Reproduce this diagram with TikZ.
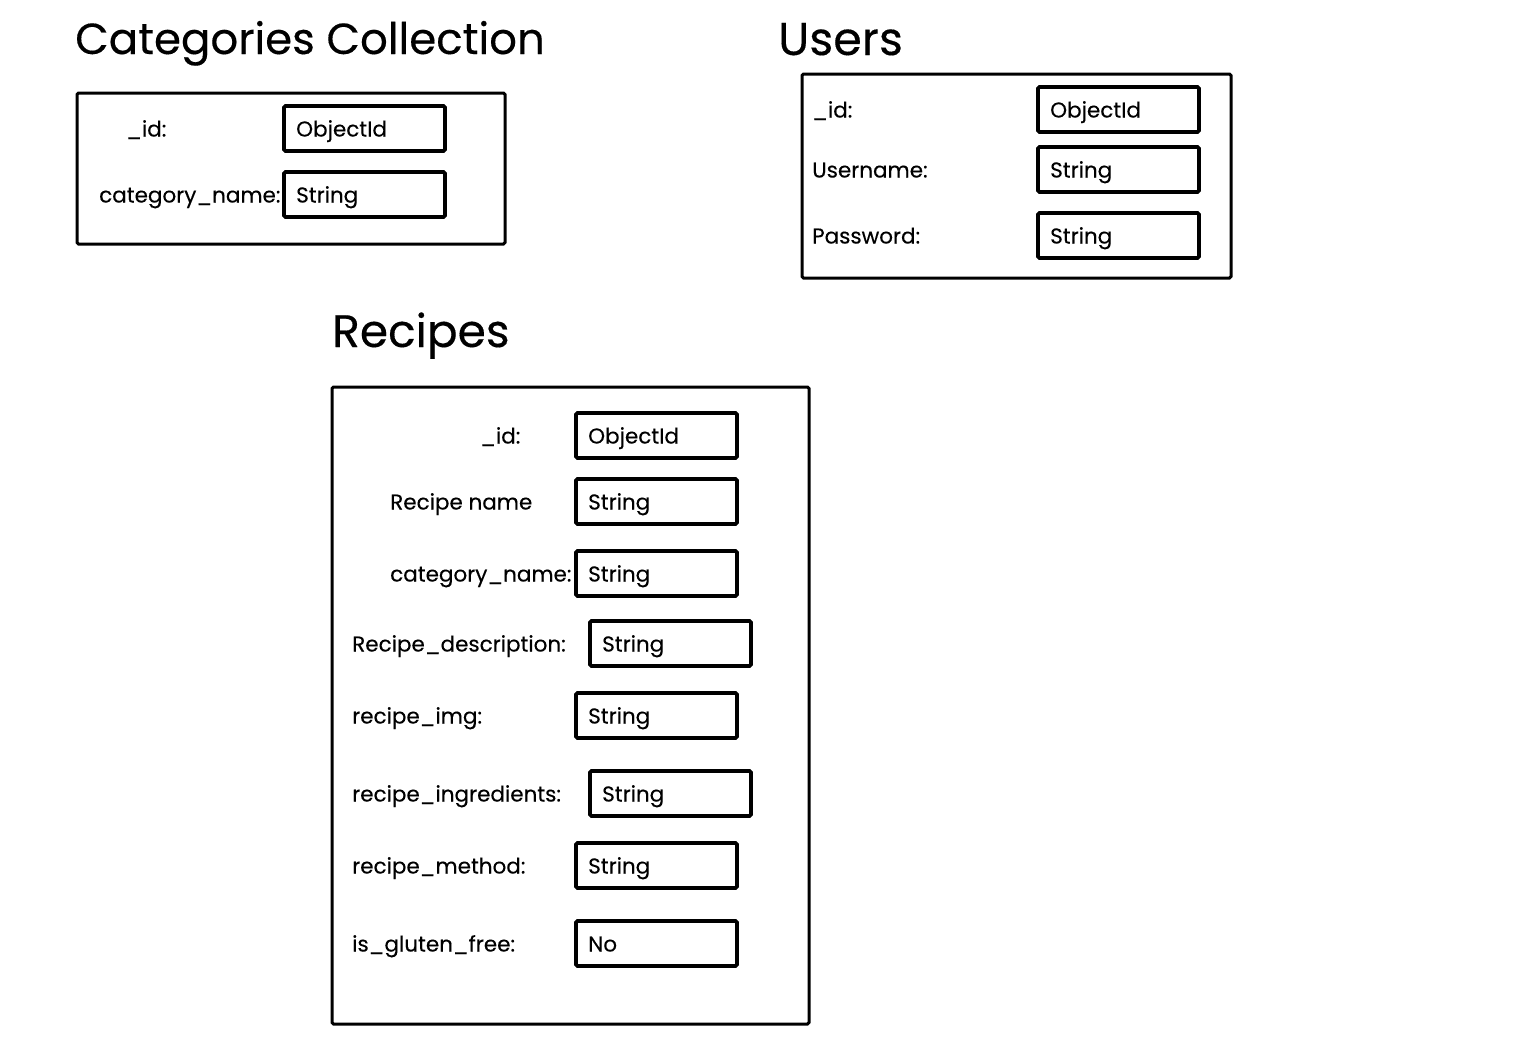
\documentclass[tikz,border=0pt]{standalone}
\usepackage{fontspec}
\setmainfont{Poppins}[FakeBold=0.3]
\newcommand\fieldrow[6]{%
  \node[lbl] (#1l) at (#2,#5+30.5) {#3};
  \node[field, anchor=north west] (#1b) at (#4,#5) {};
  \node[lbl] (#1t) at (#4+12,#5+30.5) {#6};
}
\begin{document}
\begin{tikzpicture}[x=1pt,y=-1pt,
  panel/.style={draw, line width=3pt, rounded corners=1.5pt, inner sep=0pt, outer sep=0pt, anchor=north west},
  field/.style={draw, line width=3.8pt, rounded corners=1.5pt, inner sep=0pt, outer sep=0pt, minimum width=161pt, minimum height=45pt},
  ttl/.style={anchor=base west, inner sep=0pt},
  lbl/.style={anchor=base west, inner sep=0pt, font=\fontsize{21.5}{26}\selectfont},
]
\useasboundingbox (0,0) rectangle (1522,1047);
% Categories
\node[ttl, font=\fontsize{43.5}{50}\selectfont] (cattitle) at (75,54) {Categories Collection};
\node[panel, minimum width=428pt, minimum height=151pt] (catbox) at (77,93) {};
\fieldrow{ca}{126}{\_id:}{284}{106}{ObjectId}
\fieldrow{cb}{99}{category\_name:}{284}{172}{String}
% Users
\node[ttl, font=\fontsize{46}{52}\selectfont] (usertitle) at (778,55) {Users};
\node[panel, minimum width=429pt, minimum height=204pt] (userbox) at (802,74) {};
\fieldrow{ua}{812}{\_id:}{1038}{87}{ObjectId}
\fieldrow{ub}{812}{Username:}{1038}{147}{String}
\fieldrow{uc}{812}{Password:}{1038}{213}{String}
% Recipes
\node[ttl, font=\fontsize{45.5}{52}\selectfont] (rectitle) at (332,347) {Recipes};
\node[panel, minimum width=477pt, minimum height=637pt] (recbox) at (332,387) {};
\fieldrow{ra}{480}{\_id:}{576}{413}{ObjectId}
\fieldrow{rb}{390}{Recipe name}{576}{479}{String}
\fieldrow{rc}{390}{category\_name:}{576}{551}{String}
\fieldrow{rd}{352}{Recipe\_description:}{590}{621}{String}
\fieldrow{re}{352}{recipe\_img:}{576}{693}{String}
\fieldrow{rf}{352}{recipe\_ingredients:}{590}{771}{String}
\fieldrow{rg}{352}{recipe\_method:}{576}{843}{String}
\fieldrow{rh}{352}{is\_gluten\_free:}{576}{921}{No}
\end{tikzpicture}
\end{document}
